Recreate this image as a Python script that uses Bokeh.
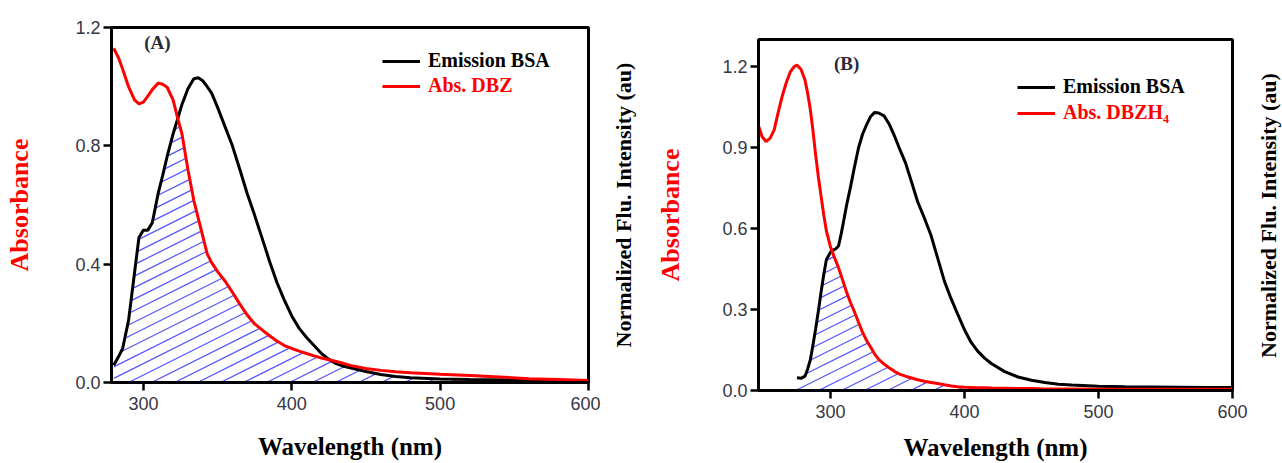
import numpy as np
from bokeh.plotting import figure
from bokeh.layouts import row, column
from bokeh.models import (Range1d, FixedTicker, PrintfTickFormatter, Legend,
                          LegendItem, Label)
from bokeh.embed import file_html
from bokeh.resources import INLINE

# ---------------- Panel A: BSA emission vs. DBZ absorbance ----------------
wl_a = [280, 283, 286, 290, 294, 297, 300, 303, 306, 310,
        313, 316, 320, 323, 326, 330, 334, 337, 340, 343,
        346, 350, 355, 360, 365, 370, 375, 380, 385, 390,
        395, 400, 405, 410, 415, 420, 425, 430, 435, 440,
        450, 460, 470, 480, 500, 520, 540, 560, 580, 600]
abs_dbz = [1.13, 1.10, 1.06, 1.00, 0.955, 0.942, 0.948, 0.968, 0.99, 1.012,
           1.008, 0.998, 0.955, 0.895, 0.84, 0.72, 0.615, 0.555, 0.495, 0.435,
           0.405, 0.375, 0.343, 0.305, 0.265, 0.228, 0.198, 0.178, 0.158, 0.14,
           0.125, 0.115, 0.106, 0.098, 0.09, 0.083, 0.077, 0.071, 0.064, 0.057,
           0.047, 0.041, 0.036, 0.033, 0.028, 0.024, 0.019, 0.013, 0.01, 0.007]
em_bsa_a = [0.058, 0.085, 0.115, 0.21, 0.37, 0.49, 0.515, 0.515, 0.54, 0.64,
            0.70, 0.764, 0.84, 0.89, 0.94, 0.993, 1.027, 1.03, 1.02, 1.00,
            0.978, 0.93, 0.865, 0.80, 0.72, 0.638, 0.565, 0.488, 0.41, 0.338,
            0.278, 0.225, 0.183, 0.152, 0.125, 0.098, 0.078, 0.064, 0.055, 0.049,
            0.037, 0.027, 0.02, 0.016, 0.012, 0.01, 0.009, 0.008, 0.007, 0.007]

# ---------------- Panel B: BSA emission vs. DBZH4 absorbance ----------------
nan = float("nan")
wl_b = [246, 249, 252, 255, 258, 261, 264, 267, 270, 273,
        275, 278, 281, 283, 285, 287, 289, 291, 293, 295,
        297, 300, 302, 304, 306, 308, 310, 312, 315, 318,
        321, 324, 327, 330, 333, 336, 340, 344, 348, 352,
        356, 360, 365, 370, 375, 380, 385, 390, 395, 400,
        405, 410, 415, 420, 430, 440, 450, 460, 470, 480,
        500, 520, 540, 560, 580, 600]
abs_dbzh4 = [0.985, 0.94, 0.922, 0.935, 0.965, 1.03, 1.09, 1.14, 1.18, 1.20,
             1.205, 1.19, 1.15, 1.10, 1.04, 0.96, 0.87, 0.79, 0.72, 0.65,
             0.59, 0.532, 0.505, 0.48, 0.455, 0.425, 0.395, 0.365, 0.325, 0.29,
             0.252, 0.215, 0.185, 0.16, 0.135, 0.115, 0.098, 0.083, 0.07, 0.06,
             0.053, 0.047, 0.04, 0.034, 0.03, 0.026, 0.021, 0.017, 0.014, 0.012,
             0.011, 0.01, 0.01, 0.009, 0.008, 0.007, 0.007, 0.006, 0.006, 0.006,
             0.005, 0.005, 0.005, 0.005, 0.005, 0.005]
em_bsa_b = [nan, nan, nan, nan, nan, nan, nan, nan, nan, nan,
            0.047, 0.045, 0.053, 0.08, 0.114, 0.17, 0.23, 0.295, 0.365, 0.43,
            0.485, 0.512, 0.52, 0.525, 0.535, 0.58, 0.632, 0.685, 0.755, 0.83,
            0.90, 0.95, 0.985, 1.015, 1.03, 1.028, 1.017, 0.985, 0.94, 0.89,
            0.843, 0.78, 0.70, 0.64, 0.575, 0.49, 0.405, 0.34, 0.282, 0.225,
            0.178, 0.145, 0.12, 0.10, 0.07, 0.05, 0.038, 0.03, 0.023, 0.02,
            0.016, 0.014, 0.013, 0.012, 0.011, 0.011]

x_ticks = [300, 400, 500, 600]
y_ticks_a = [0.0, 0.4, 0.8, 1.2]
y_ticks_b = [0.0, 0.3, 0.6, 0.9, 1.2]
flu_title = "Normalized Flu. Intensity (au)"

SERIF = "Liberation Serif"
SANS = "Liberation Sans"
TICK_COLOR = "#363645"
HATCH_COLOR = "#4040ff"


def hatch_segments(wl, top, x0, x1, y1, fw, fh, slope=0.5, gap=11.5):
    """Diagonal hatch lines filling the area between 0 and `top`."""
    sx = np.arange(0, fw + 0.25, 0.25)
    xd = x0 + sx / fw * (x1 - x0)
    lim = np.interp(xd, wl, top, left=0.0, right=0.0) / y1 * fh
    xs, ys = [], []
    for c in np.arange(-slope * fw, fh, gap):
        sy = slope * sx + c
        inside = (sy >= 0) & (sy <= lim)
        edges = np.flatnonzero(np.diff(np.r_[0, inside.astype(int), 0]))
        for a, b in zip(edges[::2], edges[1::2]):
            if b - 1 > a:
                xs.append([xd[a], xd[b - 1]])
                ys.append([sy[a] / fh * y1, sy[b - 1] / fh * y1])
    return xs, ys


def style_axes(p, xl_standoff, yl_standoff, xt_standoff):
    p.xaxis.ticker = FixedTicker(ticks=x_ticks)
    p.yaxis.formatter = PrintfTickFormatter(format="%.1f")
    for ax in (p.xaxis[0], p.yaxis[0]):
        ax.axis_line_width = 3
        ax.axis_line_color = "black"
        ax.major_tick_line_width = 2.5
        ax.major_tick_out = 8
        ax.major_tick_in = 0
        ax.minor_tick_line_color = None
        ax.major_label_text_font = SANS
        ax.major_label_text_font_size = "18px"
        ax.major_label_text_color = TICK_COLOR
        ax.axis_label_text_font = SERIF
        ax.axis_label_text_font_style = "bold"
        ax.axis_label_text_font_size = "25px"
    p.xaxis.major_label_standoff = xt_standoff
    p.yaxis.major_label_standoff = 3
    p.xaxis.axis_label = "Wavelength (nm)"
    p.xaxis.axis_label_text_color = "black"
    p.xaxis.axis_label_standoff = xl_standoff
    p.yaxis.axis_label = "Absorbance"
    p.yaxis.axis_label_text_color = "#ff0000"
    p.yaxis.axis_label_text_font_size = "26px"
    p.yaxis.axis_label_standoff = yl_standoff
    p.outline_line_color = "black"
    p.outline_line_width = 3
    p.outline_line_alpha = 1
    p.xgrid.visible = False
    p.ygrid.visible = False


def legend_entry(p, renderer, text, color, loc):
    lg = Legend(items=[LegendItem(label=text, renderers=[renderer])],
                location=loc, background_fill_alpha=0, border_line_alpha=0,
                padding=0, margin=0, spacing=0,
                glyph_width=38, glyph_height=22, label_standoff=8,
                label_text_font=SERIF, label_text_font_style="bold",
                label_text_font_size="20px", label_text_color=color,
                label_text_baseline="middle")
    p.add_layout(lg)


def make_panel(wl, absorb, emis, x_start, y_end, ticks_y, size, borders,
               abs_name, tag, tag_pos, legend_locs,
               xl_standoff, yl_standoff, xt_standoff):
    width, height = size
    left, right, top, bottom = borders
    fw, fh = width - left - right, height - top - bottom
    p = figure(width=width, height=height, output_backend="svg",
               toolbar_location=None, x_range=Range1d(x_start, 600),
               y_range=Range1d(0, y_end),
               min_border_left=left, min_border_right=right,
               min_border_top=top, min_border_bottom=bottom)
    p.yaxis.ticker = FixedTicker(ticks=ticks_y)
    style_axes(p, xl_standoff, yl_standoff, xt_standoff)

    wl = np.asarray(wl, dtype=float)
    absorb = np.asarray(absorb, dtype=float)
    emis = np.asarray(emis, dtype=float)
    ok = ~np.isnan(emis)
    overlap = np.minimum(absorb[ok], emis[ok])

    # spectral overlap region (hatched)
    hx, hy = hatch_segments(wl[ok], overlap, x_start, 600, y_end, fw, fh)
    p.multi_line(hx, hy, line_color=HATCH_COLOR, line_width=1.2,
                 line_alpha=0.9)

    r_em = p.line(wl[ok], emis[ok], line_color="black", line_width=3)
    r_abs = p.line(wl, absorb, line_color="#ff0000", line_width=3)

    legend_entry(p, r_em, "Emission BSA", "black", legend_locs[0])
    legend_entry(p, r_abs, abs_name, "#ff0000", legend_locs[1])

    p.add_layout(Label(x=tag_pos[0], y=tag_pos[1], text=tag,
                       text_font=SERIF, text_font_style="bold",
                       text_font_size="19px", text_color="#2a2a3a",
                       text_align="center", text_baseline="middle"))
    return p


def title_strip(width, top, bottom, standoff):
    """Narrow strip whose only content is the emission-intensity title."""
    q = figure(width=width, height=463, output_backend="svg",
               toolbar_location=None, x_range=Range1d(0, 1),
               y_range=Range1d(0, 1), min_border_left=width - 2,
               min_border_right=1, min_border_top=top,
               min_border_bottom=bottom)
    q.xaxis.visible = False
    q.outline_line_color = None
    q.xgrid.visible = False
    q.ygrid.visible = False
    ax = q.yaxis[0]
    ax.ticker = FixedTicker(ticks=[])
    ax.axis_line_color = None
    ax.major_tick_out = 0
    ax.major_tick_in = 0
    ax.minor_tick_out = 0
    ax.minor_tick_in = 0
    ax.major_label_standoff = 0
    ax.axis_label = flu_title
    ax.axis_label_text_font = SERIF
    ax.axis_label_text_font_style = "bold"
    ax.axis_label_text_font_size = "22px"
    ax.axis_label_text_color = "black"
    ax.axis_label_standoff = standoff
    return q


pA = make_panel(wl_a, abs_dbz, em_bsa_a, 278.5, 1.2, y_ticks_a, (600, 463),
                (111, 12, 27, 81), "Abs. DBZ", "(A)", (309.4, 1.149),
                [(271, 310), (271, 285)],
                xl_standoff=20, yl_standoff=38, xt_standoff=6)
tA = title_strip(40, 27, 81, 3)
pB = make_panel(wl_b, abs_dbzh4, em_bsa_b, 246.3, 1.3, y_ticks_b, (610, 463),
                (118, 18, 39, 72), "Abs. DBZH\u2084", "(B)", (312, 1.211),
                [(259, 292), (259, 266)],
                xl_standoff=13, yl_standoff=34, xt_standoff=6)
tB = title_strip(32, 39, 72, 0)

layout = row(column(pA), column(tA), column(pB), column(tB))
open("out.html", "w").write(file_html(layout, INLINE))
